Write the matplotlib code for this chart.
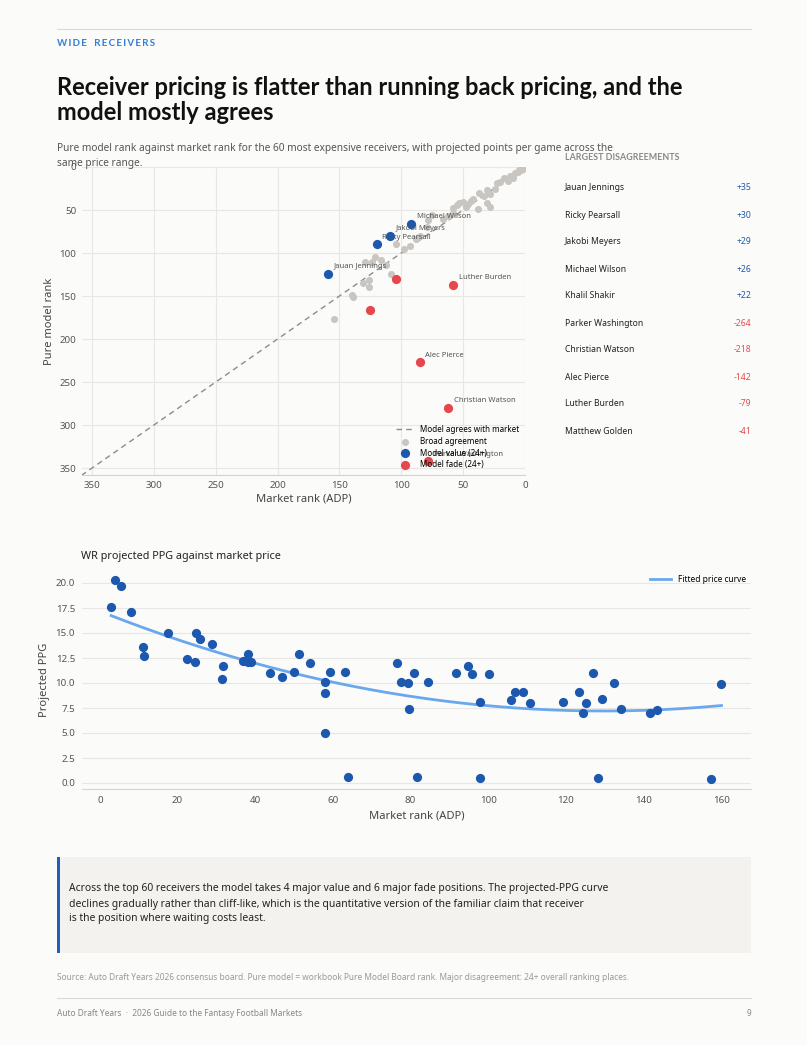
import numpy as np
import matplotlib
matplotlib.use("Agg")
import matplotlib.pyplot as plt
from matplotlib.patches import Rectangle
from matplotlib.lines import Line2D

plt.rcParams['font.family'] = ['Noto Sans', 'DejaVu Sans']
BOLD = ['Lato', 'DejaVu Sans']

# ---- top scatter: market rank vs pure model rank ----
gray_market = [2, 3, 6, 8, 10, 17, 23, 24, 31, 37, 28, 42, 46, 50, 53, 58, 38, 31, 28, 58,
               55, 75, 78, 79, 104, 98, 93, 121, 129, 124, 108, 131, 126, 126, 140, 139, 154,
               12, 14, 20, 33, 44, 48, 62, 66, 85, 88, 112, 116, 5]
gray_model = [2, 4, 6, 7, 13, 13, 19, 26, 27, 30, 31, 37, 43, 41, 42, 48, 49, 42, 47, 53,
              44, 56, 62, 70, 90, 95, 92, 105, 110, 110, 124, 135, 131, 140, 149, 151, 177,
              10, 16, 17, 34, 40, 46, 57, 60, 80, 84, 114, 108, 3]

value_names = ['Jauan Jennings', 'Ricky Pearsall', 'Jakobi Meyers', 'Michael Wilson']
value_market = [159, 120, 109, 92]
value_model = [124, 90, 80, 66]

# the last two fades are not labelled on the chart
fade_names = ['Parker Washington', 'Christian Watson', 'Alec Pierce', 'Luther Burden', '', '']
fade_market = [78, 62, 85, 58, 125, 104]
fade_model = [342, 280, 227, 137, 166, 130]

# table of largest disagreements
table_names = ['Jauan Jennings', 'Ricky Pearsall', 'Jakobi Meyers', 'Michael Wilson', 'Khalil Shakir',
               'Parker Washington', 'Christian Watson', 'Alec Pierce', 'Luther Burden', 'Matthew Golden']
table_diff = [35, 30, 29, 26, 22, -264, -218, -142, -79, -41]

# ---- bottom scatter: ADP vs projected PPG ----
adp = [2.9, 3.9, 5.5, 8.1, 11.2, 11.4, 17.6, 22.5, 24.6, 24.8, 25.8, 28.9, 31.8, 31.5, 36.9,
       38.2, 38.2, 39.0, 37.6, 43.9, 47.0, 50.1, 51.4, 54.2, 58.1, 58.1, 58.1, 59.3, 63.2, 64.0,
       76.6, 77.6, 79.4, 79.7, 81.0, 81.8, 84.6, 91.6, 94.9, 95.9, 98.0, 98.0, 100.3, 106.0,
       107.0, 109.1, 110.9, 119.4, 123.5, 124.5, 125.1, 127.0, 128.4, 129.4, 132.3, 134.1,
       141.8, 143.6, 157.5, 160.1]
ppg = [17.6, 20.3, 19.7, 17.1, 13.6, 12.7, 15.0, 12.4, 12.1, 15.0, 14.4, 13.9, 11.7, 10.4, 12.2,
       12.9, 12.1, 12.1, 12.2, 11.0, 10.6, 11.1, 12.9, 12.0, 10.1, 9.0, 5.0, 11.1, 11.1, 0.6,
       12.0, 10.1, 10.0, 7.4, 11.0, 0.6, 10.1, 11.0, 11.7, 10.9, 8.1, 0.5, 10.9, 8.3,
       9.1, 9.1, 8.0, 8.1, 9.1, 7.0, 8.0, 11.0, 0.5, 8.4, 10.0, 7.4,
       7.0, 7.3, 0.4, 9.9]

BG = '#fbfbf9'
BLUE = '#1c58ad'
RED = '#e5474c'
GRAY = '#c9c6c1'
CURVE = '#6aa8ee'
TXT = '#222222'
GRID = '#e8e7e3'

W, H = 807, 1045
fig = plt.figure(figsize=(W / 100, H / 100), dpi=100, facecolor=BG)


def fx(px):
    return px / W


def fy(py):
    return 1 - py / H


# header
fig.add_artist(Line2D([fx(57), fx(751)], [fy(29), fy(29)], color='#dcd8d4', lw=0.8))
fig.text(fx(57), fy(44), '\u2009'.join('WIDE RECEIVERS').replace(' ', '\u2002'),
         color='#2f7fd8', fontsize=7, fontweight='bold', va='center', family=BOLD)
fig.text(fx(57), fy(100), 'Receiver pricing is flatter than running back pricing, and the\nmodel mostly agrees',
         color='#111111', fontsize=17, fontweight='bold', va='center', linespacing=1.12, family=BOLD)
fig.text(fx(57), fy(156), 'Pure model rank against market rank for the 60 most expensive receivers, with projected points per game across the\nsame price range.',
         color='#555555', fontsize=7.3, va='center', linespacing=1.45)

# top scatter
ax1 = fig.add_axes([fx(82), fy(475), fx(525) - fx(82), fy(167) - fy(475)])
ax1.set_facecolor(BG)
ax1.plot([0, 358], [0, 358], ls=(0, (4, 3)), color='#8c8c8c', lw=1.0, label='Model agrees with market', zorder=1)
ax1.scatter(gray_market, gray_model, s=26, color=GRAY, lw=0, label='Broad agreement', zorder=2)
ax1.scatter(value_market, value_model, s=44, color=BLUE, lw=0, label='Model value (24+)', zorder=3)
ax1.scatter(fade_market, fade_model, s=44, color=RED, lw=0, label='Model fade (24+)', zorder=3)
for n, x, y in zip(value_names + fade_names, value_market + fade_market, value_model + fade_model):
    if n:
        ax1.annotate(n, (x, y), xytext=(4, 5), textcoords='offset points', fontsize=5.5,
                     color='#555555', va='center', ha='left', zorder=4)
ax1.set_xlim(358, 0)
ax1.set_ylim(358, 0)
ax1.set_xticks([350, 300, 250, 200, 150, 100, 50, 0])
ax1.set_yticks([0, 50, 100, 150, 200, 250, 300, 350])
ax1.grid(True, color=GRID, lw=0.8)
ax1.set_axisbelow(True)
for s in ['top', 'right', 'left']:
    ax1.spines[s].set_visible(False)
ax1.spines['bottom'].set_color('#d6d4d0')
ax1.tick_params(length=0, labelsize=7, colors='#555555', pad=4)
ax1.set_xlabel('Market rank (ADP)', fontsize=8, color='#444444', labelpad=3)
ax1.set_ylabel('Pure model rank', fontsize=8, color='#444444', labelpad=3)
ax1.legend(loc='lower right', frameon=False, fontsize=5.8, handlelength=2.2, borderaxespad=0.3,
           labelspacing=0.35, handletextpad=0.8, bbox_to_anchor=(1.0, 0.0))

# table of disagreements
fig.text(fx(565), fy(157), 'LARGEST DISAGREEMENTS', color='#888888', fontsize=6.4, fontweight='bold',
         va='center', family=BOLD)
for i, (n, d) in enumerate(zip(table_names, table_diff)):
    y = 188 + 27 * i
    fig.text(fx(565), fy(y), n, color=TXT, fontsize=6.2, va='center')
    fig.text(fx(751), fy(y), f'{d:+d}', color=BLUE if d > 0 else RED, fontsize=6.2, va='center', ha='right')

# bottom scatter
fig.text(fx(81), fy(557), 'WR projected PPG against market price', color=TXT, fontsize=7.8, va='center')
ax2 = fig.add_axes([fx(82), fy(789), fx(751) - fx(82), fy(570) - fy(789)])
ax2.set_facecolor(BG)
coef = np.polyfit(adp, ppg, 2)
xs = np.linspace(min(adp), max(adp), 200)
ax2.plot(xs, np.polyval(coef, xs), color=CURVE, lw=2, label='Fitted price curve', zorder=2)
ax2.scatter(adp, ppg, s=44, color=BLUE, lw=0, zorder=3)
ax2.set_xlim(-4.6, 167.7)
ax2.set_ylim(-0.6, 21.3)
ax2.set_xticks(range(0, 161, 20))
ax2.set_yticks(np.arange(0, 20.1, 2.5))
ax2.yaxis.set_major_formatter(matplotlib.ticker.FormatStrFormatter('%.1f'))
ax2.grid(True, axis='y', color=GRID, lw=0.8)
ax2.set_axisbelow(True)
for s in ['top', 'right', 'left']:
    ax2.spines[s].set_visible(False)
ax2.spines['bottom'].set_color('#d6d4d0')
ax2.tick_params(length=0, labelsize=7, colors='#555555', pad=5)
ax2.set_xlabel('Market rank (ADP)', fontsize=8, color='#444444', labelpad=4)
ax2.set_ylabel('Projected PPG', fontsize=8, color='#444444', labelpad=4)
ax2.legend(loc='upper right', frameon=False, fontsize=6, handlelength=2.5, borderaxespad=0.2)

# callout
fig.add_artist(Rectangle((fx(57), fy(953)), fx(751) - fx(57), fy(857) - fy(953),
                         facecolor='#f3f2ee', edgecolor='none', transform=fig.transFigure))
fig.add_artist(Rectangle((fx(57), fy(953)), fx(3), fy(857) - fy(953),
                         facecolor='#1f5fb8', edgecolor='none', transform=fig.transFigure))
fig.text(fx(69), fy(904), 'Across the top 60 receivers the model takes 4 major value and 6 major fade positions. The projected-PPG curve\n'
         'declines gradually rather than cliff-like, which is the quantitative version of the familiar claim that receiver\n'
         'is the position where waiting costs least.', color=TXT, fontsize=7.45, va='center', linespacing=1.5)

# footer
fig.text(fx(57), fy(977), 'Source: Auto Draft Years 2026 consensus board. Pure model = workbook Pure Model Board rank. Major disagreement: 24+ overall ranking places.',
         color='#999999', fontsize=6, va='center')
fig.add_artist(Line2D([fx(57), fx(751)], [fy(998), fy(998)], color='#dcd8d4', lw=0.8))
fig.text(fx(57), fy(1013), 'Auto Draft Years  \u00b7  2026 Guide to the Fantasy Football Markets', color='#888888', fontsize=6, va='center')
fig.text(fx(751), fy(1013), '9', color='#888888', fontsize=6, va='center', ha='right')

fig.savefig('out.png', dpi=100, facecolor=BG)
